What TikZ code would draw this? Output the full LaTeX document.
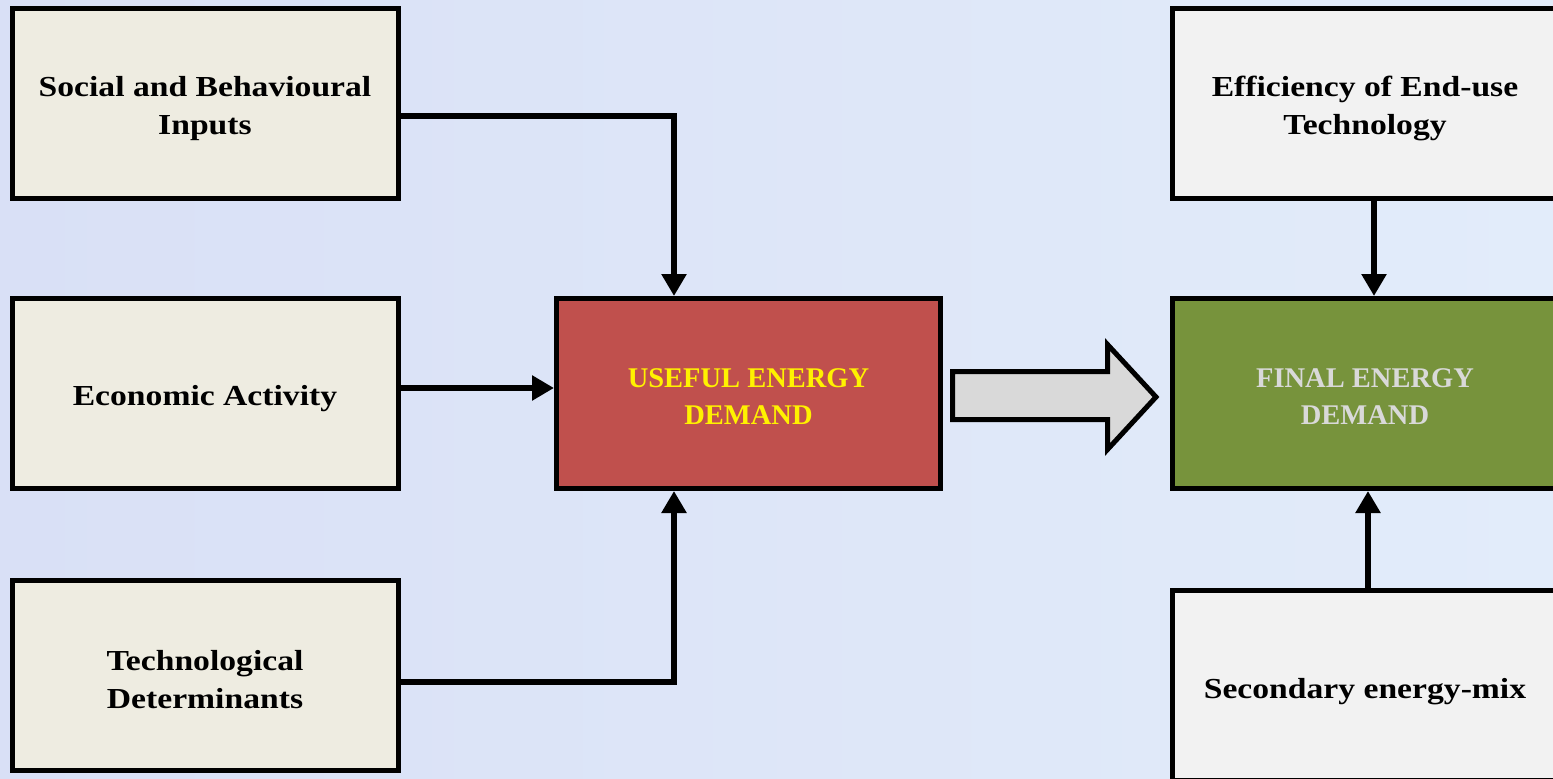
\documentclass[tikz,border=0pt]{standalone}
\usepackage{fontspec}
\setmainfont{Liberation Serif}
\newfontfamily\widefont[FakeStretch=1.16]{Liberation Serif}
\usetikzlibrary{arrows.meta}
\definecolor{bgA}{HTML}{D9E0F6}
\definecolor{bgB}{HTML}{E2ECFA}
\definecolor{beige}{HTML}{EEECE1}
\definecolor{lgray}{HTML}{F2F2F2}
\definecolor{redbox}{HTML}{C0504D}
\definecolor{greenbox}{HTML}{77933C}
\definecolor{txtgray}{HTML}{D9D9D9}
\definecolor{arrowgray}{HTML}{D9D9D9}
\tikzset{
  box/.style={draw=black, line width=5pt, minimum width=386pt, minimum height=190pt,
    inner sep=0pt},
  inbox/.style={box, fill=beige},
  outbox/.style={box, fill=lgray},
  lbl/.style={align=center, inner sep=0pt, yshift=-5pt,
    font=\widefont\fontsize{29}{38}\selectfont\bfseries},
  caplbl/.style={align=center, inner sep=0pt, yshift=-3pt,
    font=\fontsize{28.5}{37}\selectfont\bfseries},
  conn/.style={draw=black, line width=6pt, -{Triangle[width=24pt,length=22pt]}},
}
\begin{document}
\begin{tikzpicture}[x=1pt,y=-1pt]
\useasboundingbox (0,0) rectangle (1553,779);
\clip (0,0) rectangle (1553,779);
\fill[left color=bgA, right color=bgB] (0,0) rectangle (1553,779);

\node[inbox, label={[lbl]center:{Social and Behavioural\\Inputs}}] (soc) at (205,103.5) {};
\node[inbox, label={[lbl]center:{Economic Activity}}] (eco) at (205,393.5) {};
\node[inbox, label={[lbl]center:{Technological\\Determinants}}] (tec) at (205,675) {};
\node[box, fill=redbox, minimum width=384pt,
  label={[caplbl,text=yellow]center:{USEFUL ENERGY\\DEMAND}}] (use) at (748.5,393.5) {};
\node[box, fill=greenbox,
  label={[caplbl,text=txtgray]center:{FINAL ENERGY\\DEMAND}}] (fin) at (1365,393.5) {};
\node[outbox, label={[lbl]center:{Efficiency of End-use\\Technology}}] (eff) at (1365,103.5) {};
\node[outbox, label={[lbl,yshift=-1pt]center:{Secondary energy-mix}}] (sec) at (1365,685.5) {};

\draw[conn] ([yshift=-12.5pt]soc.east) -| ([xshift=-74.5pt]use.north);
\draw[conn] ([yshift=5.5pt]eco.east) -- ([yshift=5.5pt]use.west);
\draw[conn] ([yshift=-7pt]tec.east) -| ([xshift=-74.5pt]use.south);
\draw[conn] ([xshift=9pt]eff.south) -- ([xshift=9pt]fin.north);
\draw[conn] ([xshift=3pt]sec.north) -- ([xshift=3pt]fin.south);

\draw[line width=5pt, fill=arrowgray, line join=miter]
  (952.5,371.5) -- (1107.5,371.5) -- (1107.5,344.5) -- (1156,397) -- (1107.5,449.5)
  -- (1107.5,419.5) -- (952.5,419.5) -- cycle;
\end{tikzpicture}
\end{document}
